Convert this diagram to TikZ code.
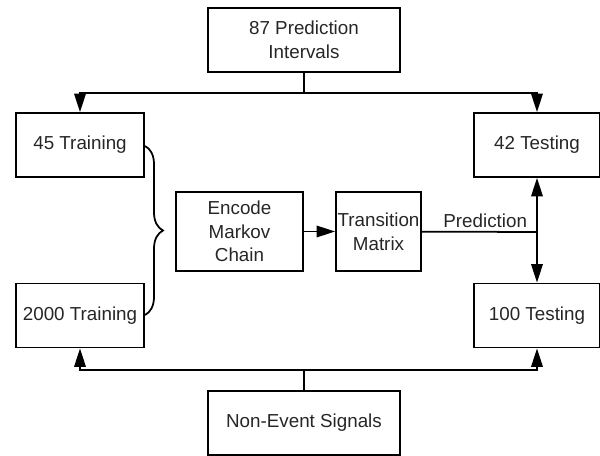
\documentclass[tikz,border=0pt]{standalone}
\usepackage{fontspec}
\setmainfont{Liberation Sans}
\usetikzlibrary{arrows.meta, decorations.pathreplacing}

\begin{document}
\begin{tikzpicture}[x=0.02cm, y=-0.02cm,
    every node/.style={font=\fontsize{10.7}{13.5}\selectfont, text=black!85},
    box/.style={draw, line width=1pt, align=center, inner sep=1pt, minimum height=1.28cm},
    link/.style={line width=1pt},
    feed/.style={link, -{Triangle[length=0.37cm, width=0.23cm]}}]
    % Fix the frame
    \useasboundingbox (0,0) rectangle (600,456);

    % Draw the boxes
    \node[box, minimum width=3.84cm] (intervals) at (304,40) {87 Prediction\\Intervals};
    \node[box, minimum width=2.56cm] (train45) at (80,145) {45 Training};
    \node[box, minimum width=2.56cm] (train2000) at (80,315.5) {2000 Training};
    \node[box, minimum width=2.52cm] (test42) at (537,145) {42 Testing};
    \node[box, minimum width=2.52cm] (test100) at (537,315.5) {100 Testing};
    \node[box, minimum width=2.54cm, minimum height=1.58cm] (encode) at (239.5,231.5) {Encode\\Markov\\Chain};
    \node[box, minimum width=1.7cm, minimum height=1.58cm, inner sep=0pt] (matrix) at (378.5,231.5) {Transition\\Matrix};
    \node[box, minimum width=3.84cm] (nonevent) at (304,423) {Non-Event Signals};

    % Split points
    \coordinate (topsplit) at (304,93);
    \coordinate (botsplit) at (304,370);
    \coordinate (predsplit) at (537,232);

    % Top and bottom feeds
    \draw[link] (intervals) -- (topsplit);
    \foreach \b in {train45, test42}
        \draw[feed] (topsplit) -| (\b);
    \draw[link] (nonevent) -- (botsplit);
    \foreach \b in {train2000, test100}
        \draw[feed] (botsplit) -| (\b);

    % Training sets go into the encoder
    \draw[link, decorate, decoration={brace, amplitude=0.36cm}] (145,146) -- (145,315);

    % Encoder to matrix, then prediction
    \draw[feed] (encode) -- (matrix);
    \draw[link] (matrix) -- (predsplit) node[pos=0.55, above, inner sep=2pt] {Prediction};
    \draw[feed] (predsplit) -- (test42);
    \draw[feed] (predsplit) -- (test100);

\end{tikzpicture}
\end{document}
